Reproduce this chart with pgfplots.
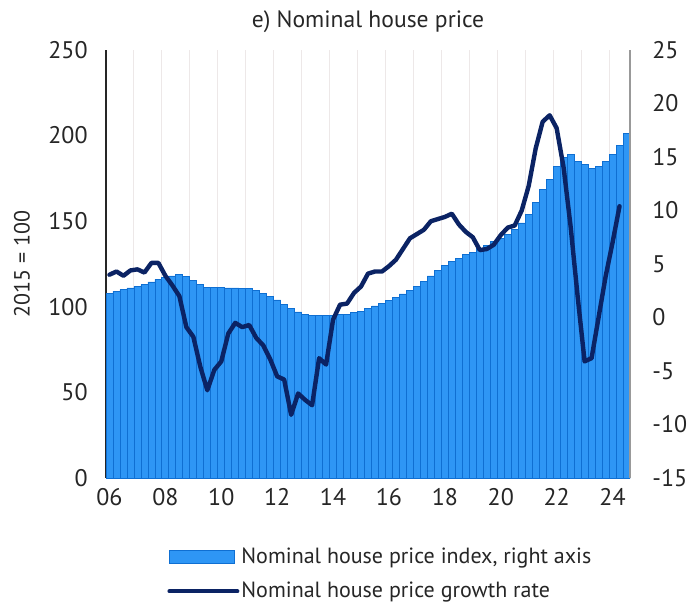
\documentclass[border=0pt]{standalone}
\usepackage{fontspec}
\setmainfont{PT Sans}
\usepackage{pgfplots}
\usepackage{pgfplotstable}
\pgfplotsset{compat=1.18}
\definecolor{cBar}{HTML}{2E96F5}
\definecolor{cBarEdge}{HTML}{0F6FD2}
\definecolor{cLine}{HTML}{0B2364}
\definecolor{cInk}{HTML}{262626}
\definecolor{cGrid}{HTML}{EDE8E8}

% quarterly, 2006Q1 = 0
\pgfplotstableread{
q hpi
0 108
1 109
2 110
3 111
4 112
5 113
6 114.5
7 116
8 117
9 118
10 119
11 117.5
12 115.5
13 113
14 111.5
15 111.5
16 111.5
17 111
18 111
19 110.5
20 110.5
21 109.5
22 108
23 106
24 104
25 101.5
26 99
27 97
28 95.5
29 95
30 95
31 95
32 95
33 95.5
34 95.5
35 96.5
36 97.5
37 99
38 100.5
39 102
40 103.5
41 105.5
42 107.5
43 109.5
44 112
45 115
46 118
47 121
48 124
49 126.5
50 128.5
51 130.5
52 132
53 134
54 136
55 138
56 140
57 142.5
58 145
59 149
60 154
61 161
62 168.5
63 174.5
64 182
65 187
66 189
67 185
68 183
69 181
70 182
71 185
72 189
73 194
74 201
}\hpidata

\pgfplotstableread{
q gr
0 4.0
1 4.3
2 3.9
3 4.4
4 4.5
5 4.2
6 5.1
7 5.1
8 3.9
9 3.0
10 2.0
11 -0.9
12 -1.8
13 -4.6
14 -6.8
15 -4.9
16 -4.1
17 -1.5
18 -0.5
19 -0.9
20 -0.7
21 -1.9
22 -2.6
23 -3.9
24 -5.5
25 -5.8
26 -9.1
27 -7.1
28 -7.7
29 -8.2
30 -3.8
31 -4.4
32 -0.2
33 1.2
34 1.3
35 2.3
36 2.9
37 4.1
38 4.3
39 4.3
40 4.8
41 5.4
42 6.4
43 7.4
44 7.8
45 8.2
46 9.0
47 9.2
48 9.4
49 9.7
50 8.7
51 8.0
52 7.5
53 6.3
54 6.4
55 6.8
56 7.7
57 8.4
58 8.6
59 10.0
60 12.3
61 15.8
62 18.3
63 18.9
64 17.7
65 14.0
66 8.5
67 2.0
68 -4.1
69 -3.8
70 0.0
71 3.8
72 7.0
73 10.4
}\grdata

\pgfplotsset{
  common/.style={
    scale only axis, width=262pt, height=214pt,
    xmin=-0.5, xmax=74.5,
    font=\fontsize{11}{13}\selectfont,
    tick label style={color=cInk, font=\fontsize{12}{14}\selectfont},
    major tick length=0pt, minor tick length=0pt,
    /pgf/number format/assume math mode=true,
  },
}

\begin{document}
\begin{tikzpicture}
\begin{axis}[common, name=ax,
  ymin=0, ymax=250, ytick={0,50,...,250},
  axis x line*=bottom, axis y line*=left,
  x axis line style={-, draw=cInk, line width=1pt},
  y axis line style={-, draw=cInk, line width=0.7pt},
  xtick={0,8,...,72},
  xticklabels={06,08,10,12,14,16,18,20,22,24},
  minor xtick={3.5,7.5,...,71.5},
  xminorgrids, minor grid style={cGrid, line width=0.5pt},
  xticklabel style={inner sep=0pt, yshift=-5pt},
  yticklabel style={inner sep=0pt, xshift=-9pt},
  ylabel={2015 = 100},
  every axis y label/.style={at={([xshift=-42pt]rel axis cs:0,0.5)}, rotate=90, anchor=center, color=cInk},
  title={e) Nominal house price},
  every axis title/.style={at={([yshift=14pt]rel axis cs:0.5,1)}, anchor=center, color=cInk,
    font=\fontsize{11.8}{14}\selectfont},
]
  \addplot[ybar, bar width=1, fill=cBar, draw=cBarEdge, line width=0.4pt]
    table[x=q, y=hpi]{\hpidata};
\end{axis}

\begin{axis}[common,
  ymin=-15, ymax=25, ytick={-15,-10,...,25},
  axis x line=none, axis y line*=right,
  y axis line style={-, draw=black!40, line width=0.6pt},
  yticklabel style={inner sep=0pt, xshift=11pt},
  legend cell align=left,
  legend style={draw=none, fill=none, inner sep=0pt,
    at={(rel axis cs:0,0)}, anchor=north west, xshift=30.5pt, yshift=-33.5pt,
    row sep=6pt, nodes={inner sep=1pt}, text=cInk},
]
  \addlegendimage{legend image code/.code={%
    \draw[fill=cBar, draw=cBarEdge, line width=0.4pt] (0pt,-3.2pt) rectangle (32.5pt,3.2pt);}}
  \addlegendentry{Nominal house price index, right axis}
  \addplot[cLine, line width=2.2pt, line join=round, line cap=round,
    legend image code/.code={%
      \draw[cLine, line width=2pt, line cap=round] (0pt,0pt) -- (34pt,0pt);}]
    table[x=q, y=gr]{\grdata};
  \addlegendentry{Nominal house price growth rate}
\end{axis}
\path (ax.south west) ++(-53pt,-62.5pt) coordinate (bl);
\path (ax.north east) ++(29.5pt,25pt) coordinate (tr);
\path (bl) rectangle (tr);
\end{tikzpicture}
\end{document}
